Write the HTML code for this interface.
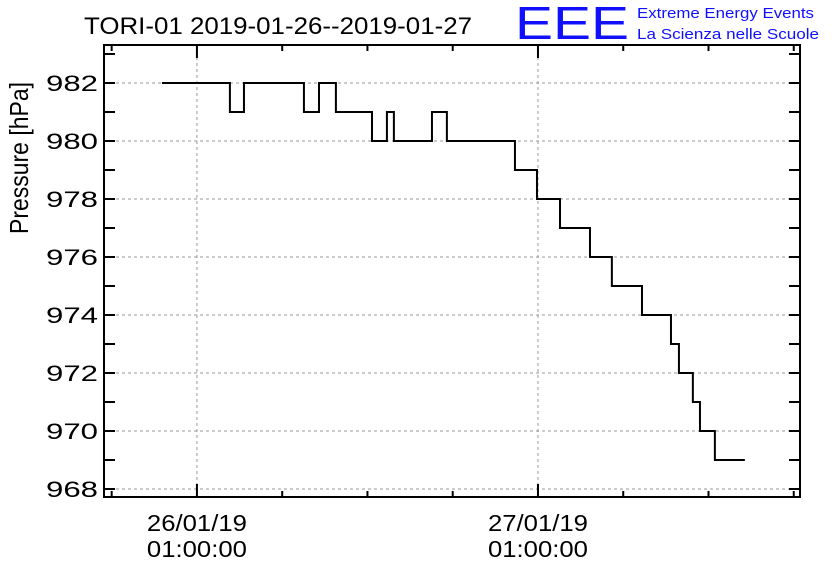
<!DOCTYPE html>
<html><head><meta charset="utf-8"><style>
body{margin:0;background:#fff;}
svg{display:block;font-family:"Liberation Sans",sans-serif;}
</style></head><body>
<svg id="chart" width="836" height="572" viewBox="0 0 836 572">
<text x="84" y="34" font-size="24" textLength="388" lengthAdjust="spacingAndGlyphs" fill="#000">TORI-01 2019-01-26--2019-01-27</text>
<text x="515" y="39" font-size="46" fill="#1010ff" textLength="114" lengthAdjust="spacingAndGlyphs">EEE</text>
<text x="637" y="18" font-size="15" fill="#1010ff" textLength="177" lengthAdjust="spacingAndGlyphs">Extreme Energy Events</text>
<text x="637" y="39" font-size="15" fill="#1010ff" textLength="182" lengthAdjust="spacingAndGlyphs">La Scienza nelle Scuole</text>
<text transform="translate(28,158) rotate(-90)" text-anchor="middle" font-size="26" textLength="152" lengthAdjust="spacingAndGlyphs">Pressure [hPa]</text>
<g id="grid"></g><g id="ticks"></g><g id="labels"></g>
<path id="series" fill="none" stroke="#000" stroke-width="2"/>
<rect x="104" y="45" width="696" height="452" fill="none" stroke="#000" stroke-width="2"/>
</svg>
<script>
// hours since 2019-01-26 00:00
const stepHours=[-1.46,3.32,4.31,8.53,9.59,10.78,13.32,14.37,14.86,17.54,18.59,23.38,24.93,26.55,28.66,30.2,32.32,34.36,34.92,35.9,36.4,37.45,39.56];
const pressure=[982,981,982,981,982,981,980,981,980,981,980,979,978,977,976,975,974,973,972,971,970,969,969];
const yTicks=[968,970,972,974,976,978,980,982];
const xTickHours=[1,25];
const xTickLabels=[["26/01/19","01:00:00"],["27/01/19","01:00:00"]];
const L=104,R=800,T=45,B=497;
const hMin=-5.54,hMax=43.44,pMin=967.724,pMax=983.31;
const xs=h=>L+(h-hMin)/(hMax-hMin)*(R-L);
const ys=p=>B-(p-pMin)/(pMax-pMin)*(B-T);
const NS="http://www.w3.org/2000/svg";
function mk(tag,parent,attrs){const e=document.createElementNS(NS,tag);for(const k in attrs)e.setAttribute(k,attrs[k]);document.getElementById(parent).appendChild(e);return e;}
yTicks.forEach(v=>{const y=ys(v);
 const g=mk('line','grid',{x1:L,x2:R,y1:y,y2:y,stroke:'#999','stroke-dasharray':'3,3','stroke-width':1});
 
 
 const t=mk('text','labels',{x:L-6,y:y+8,'text-anchor':'end','font-size':22,textLength:52,lengthAdjust:'spacingAndGlyphs'});
 t.textContent=v;
 
 
});
for(let v=968;v<=983;v++){const y=ys(v);
 const a=mk('line','ticks',{x1:L,x2:L+11,y1:y,y2:y,stroke:'#000','stroke-width':2});
 
 
 const b=mk('line','ticks',{x1:R-11,x2:R,y1:y,y2:y,stroke:'#000','stroke-width':2});
 
 
}
xTickHours.forEach((h,i)=>{const x=xs(h);
 const g=mk('line','grid',{x1:x,x2:x,y1:T,y2:B,stroke:'#999','stroke-dasharray':'3,3','stroke-width':1});
 
 
 xTickLabels[i].forEach((s,j)=>{const t=mk('text','labels',{x:x,y:531+j*26,'text-anchor':'middle','font-size':23,textLength:100,lengthAdjust:'spacingAndGlyphs'});
  t.textContent=s;
  
  });
});
for(let h=-5;h<=43;h+=6){const x=xs(h);const major=((h-1)%24===0);const len=major?13:6;
 if(x<L||x>R)continue;
 const a=mk('line','ticks',{x1:x,x2:x,y1:B,y2:B-len,stroke:'#000','stroke-width':2});
 
 
 const b=mk('line','ticks',{x1:x,x2:x,y1:T,y2:T+len,stroke:'#000','stroke-width':2});
 
 
}
let d='M'+xs(stepHours[0])+','+ys(pressure[0]);
for(let i=1;i<stepHours.length;i++){d+=' H'+xs(stepHours[i])+' V'+ys(pressure[i]);}
document.getElementById('series').setAttribute('d',d);
</script>
</body></html>
